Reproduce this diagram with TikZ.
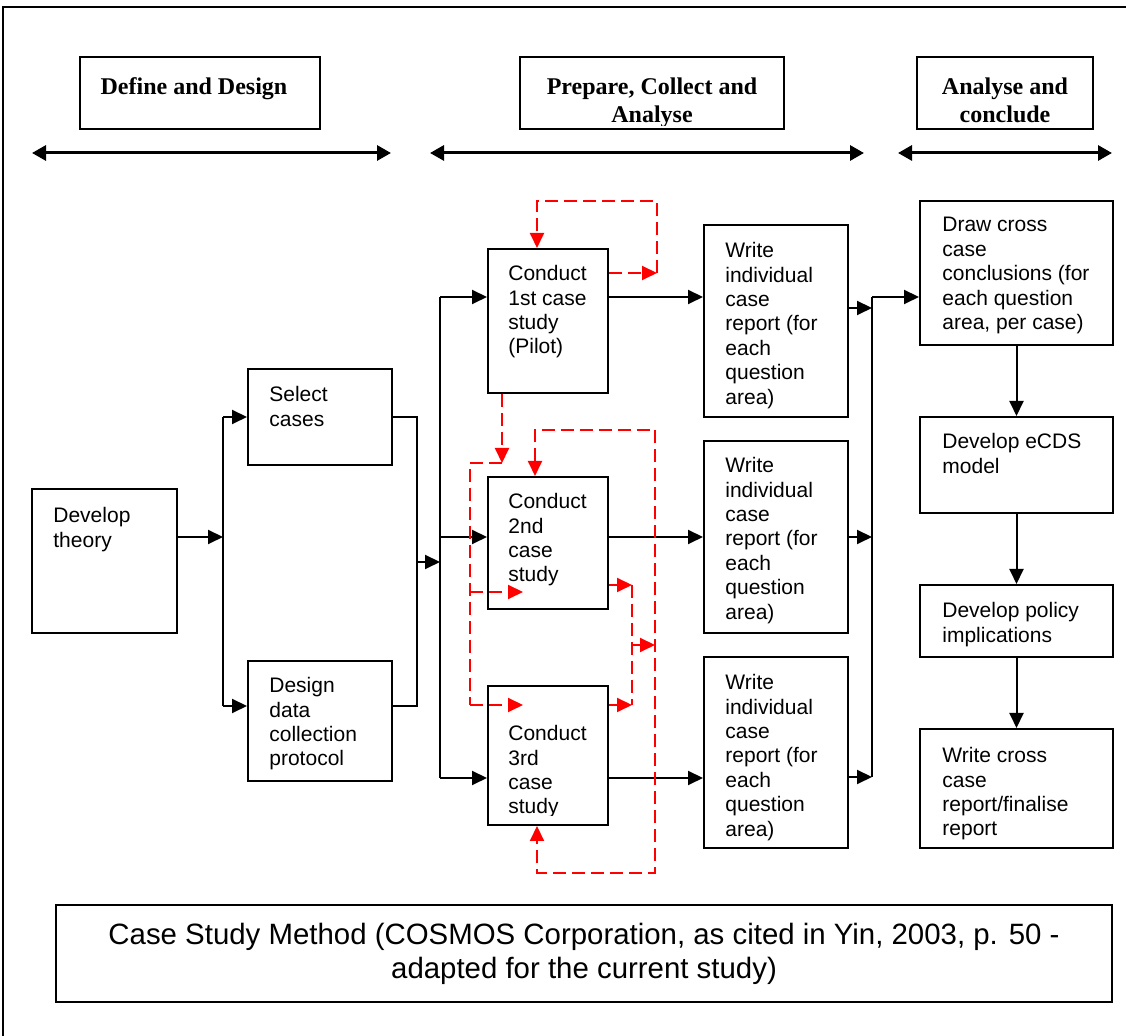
\documentclass[tikz,border=0pt]{standalone}
\usepackage{fontspec}
\setmainfont{Liberation Serif}
\setsansfont{Liberation Sans}
\usetikzlibrary{arrows.meta,fit}

\begin{document}
\begin{tikzpicture}[x=0.5pt,y=-0.5pt,
  box/.style={draw=black, line width=1pt, inner sep=0pt, rectangle},
  txt/.style={anchor=north west, align=left, inner sep=0pt,
    font=\sffamily\fontsize{10.5pt}{12.2pt}\selectfont},
  hdrtxt/.style={anchor=north, align=center, inner sep=0pt,
    font=\bfseries\fontsize{12pt}{14pt}\selectfont},
  conn/.style={draw=black, line width=1pt},
  arr/.style={conn, -{Triangle[length=7.5pt,width=7pt]}},
  span/.style={draw=black, line width=1.5pt,
    {Triangle[length=7pt,width=7.5pt]}-{Triangle[length=7pt,width=7.5pt]}},
  rline/.style={draw=red, line width=1pt, dash pattern=on 6.5pt off 3pt},
  rarr/.style={rline, -{Triangle[length=7.5pt,width=7pt]}},
  rboth/.style={rline, {Triangle[length=7.5pt,width=7pt]}-{Triangle[length=7.5pt,width=7pt]}}
]
\useasboundingbox (0,0) rectangle (1126,1036);

% outer frame
\draw[line width=1pt] (3,1040) -- (3,7) -- (1130,7);

% phase headers
\node[box, fit={(80,57) (320,129)}] (hdr1) {};
\node[box, fit={(520,57) (784,129)}] (hdr2) {};
\node[box, fit={(917,57) (1093,129)}] (hdr3) {};
\node[hdrtxt] (hdr1t) at (194,77) {Define and Design};
\begin{scope}
  \clip (520,57) rectangle (784,126);
  \node[hdrtxt] (hdr2t) at (652,77) {Prepare, Collect and\\Analyse};
\end{scope}
\node[hdrtxt] (hdr3t) at (1005,77) {Analyse and\\conclude};

% phase spans
\coordinate (s1a) at (32,153);  \coordinate (s1b) at (391,153);
\coordinate (s2a) at (430,153); \coordinate (s2b) at (864,153);
\coordinate (s3a) at (898,153); \coordinate (s3b) at (1112,153);
\draw[span] (s1a) -- (s1b);
\draw[span] (s2a) -- (s2b);
\draw[span] (s3a) -- (s3b);

% process boxes
\node[box, fit={(32,489) (177,633)}] (dt) {};
\node[box, fit={(248,369) (392,465)}] (sel) {};
\node[box, fit={(248,661) (392,781)}] (dsg) {};
\node[box, fit={(488,249) (608,393)}] (c1) {};
\node[box, fit={(488,477) (608,609)}] (c2) {};
\node[box, fit={(488,686) (608,825)}] (c3) {};
\node[box, fit={(704,225) (848,417)}] (w1) {};
\node[box, fit={(704,441) (848,633)}] (w2) {};
\node[box, fit={(704,657) (848,848)}] (w3) {};
\node[box, fit={(920,201) (1113,345)}] (dc) {};
\node[box, fit={(920,417) (1113,513)}] (ecds) {};
\node[box, fit={(920,585) (1113,657)}] (pol) {};
\node[box, fit={(920,729) (1113,848)}] (wc) {};
\node[box, fit={(56,905) (1112,1002)}] (cap) {};

% box texts
\node[txt] (dtt) at (53,507) {Develop\\theory};
\node[txt] (selt) at (269,386) {Select\\cases};
\node[txt] (dsgt) at (269,677) {Design\\data\\collection\\protocol};
\node[txt] (c1t) at (508,265) {Conduct\\1st case\\study\\(Pilot)};
\node[txt] (c2t) at (508,493) {Conduct\\2nd\\case\\study};
\begin{scope}
  \clip (488,686) rectangle (608,816);
  \node[txt] (c3t) at (508,725) {Conduct\\3rd\\case\\study};
\end{scope}
\node[txt] (w1t) at (725,242) {Write\\individual\\case\\report (for\\each\\question\\area)};
\node[txt] (w2t) at (725,457) {Write\\individual\\case\\report (for\\each\\question\\area)};
\node[txt] (w3t) at (725,674) {Write\\individual\\case\\report (for\\each\\question\\area)};
\node[txt] (dct) at (942,217) {Draw cross\\case\\conclusions (for\\each question\\area, per case)};
\node[txt] (ecdst) at (942,433) {Develop eCDS\\model};
\node[txt] (polt) at (942,602) {Develop policy\\implications};
\node[txt] (wct) at (942,747) {Write cross\\case\\report/finalise\\report};
\node[anchor=north, align=center, inner sep=0pt,
  font=\sffamily\fontsize{14.7pt}{17pt}\selectfont] (capt) at (584,923)
  {Case Study Method (COSMOS Corporation, as cited in Yin, 2003, p. 50 -\\adapted for the current study)};

% junction points of the flow lines
\coordinate (b1n) at (223,417); \coordinate (b1m) at (223,537); \coordinate (b1s) at (223,706);
\coordinate (j1n) at (417,417); \coordinate (j1m) at (417,562); \coordinate (j1s) at (417,706);
\coordinate (b2n) at (440,297); \coordinate (b2i) at (440,562);
\coordinate (b2m) at (440,537); \coordinate (b2s) at (440,778);
\coordinate (b3n) at (872,297); \coordinate (b3s) at (872,777);

% main flow
\draw[arr] (dt.east |- b1m) -- (b1m);
\draw[conn] (b1n) -- (b1s);
\draw[arr] (b1n) -- (sel.west |- b1n);
\draw[arr] (b1s) -- (dsg.west |- b1s);
\draw[conn] (sel.east |- j1n) -- (j1n) -- (j1s) -- (dsg.east |- j1s);
\draw[arr] (j1m) -- (b2i);
\draw[conn] (b2n) -- (b2s);
\draw[arr] (b2n) -- (c1.west |- b2n);
\draw[arr] (b2m) -- (c2.west |- b2m);
\draw[arr] (b2s) -- (c3.west |- b2s);
\draw[arr] (c1.east |- b2n) -- (w1.west |- b2n);
\draw[arr] (c2.east |- b2m) -- (w2.west |- b2m);
\draw[arr] (c3.east |- b2s) -- (w3.west |- b2s);
\draw[arr] (w1.east |- 0,308) -- (b3n |- 0,308);
\draw[arr] (w2.east |- 0,537) -- (b3n |- 0,537);
\draw[arr] (w3.east |- b3s) -- (b3s);
\draw[conn] (b3n) -- (b3s);
\draw[arr] (b3n) -- (dc.west |- b3n);
\draw[arr] (dc.south) -- (ecds.north);
\draw[arr] (ecds.south) -- (pol.north);
\draw[arr] (pol.south) -- (wc.north);

% feedback loops (dashed red)
\coordinate (r1) at (657,273);
\draw[rarr] (c1.east |- r1) -- (r1);
\draw[rarr] (r1) -- (657,201) -- (537,201) -- (c1.north -| 537,0);
\coordinate (r2) at (502,463);
\draw[rarr] (c1.south -| r2) -- (r2);
\draw[rline] (r2) -- (470,463) -- (470,705);
\draw[rarr] (470,592) -- (523,592);
\draw[rarr] (470,705) -- (523,705);
\draw[rboth] (c2.north -| 535,0) -- (535,430) -- (655,430) -- (655,873) -- (537,873) -- (c3.south -| 537,0);
\coordinate (r3a) at (632,585); \coordinate (r3b) at (632,705);
\draw[rarr] (c2.east |- r3a) -- (r3a);
\draw[rarr] (c3.east |- r3b) -- (r3b);
\draw[rline] (r3a) -- (r3b);
\draw[rarr] (632,645) -- (655,645);
\end{tikzpicture}
\end{document}
